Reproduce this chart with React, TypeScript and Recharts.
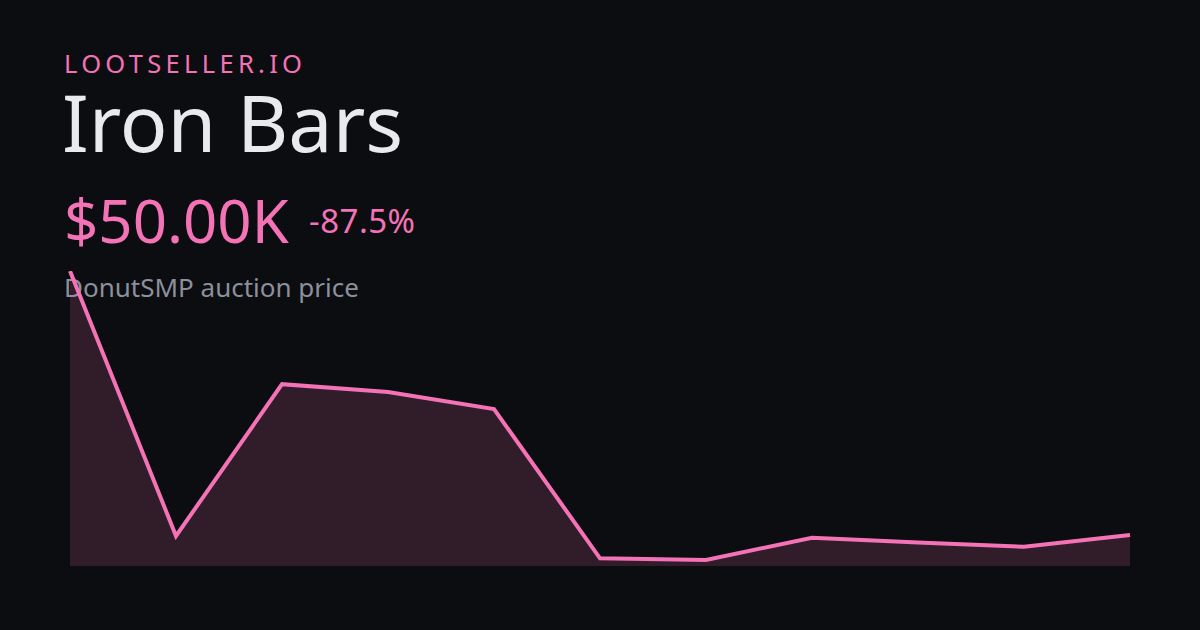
import { AreaChart, Area, XAxis, YAxis } from "recharts";

const DAYS = ["1", "2", "3", "4", "5", "6", "7", "8", "9", "10", "11"];
// price in thousands of $
const PRICES = [400, 48.8, 250, 239.6, 217, 19.2, 17, 46.5, 40, 34.5, 50];
const Y_DOMAIN = [9, 400];

const data = DAYS.map((d, i) => ({ day: d, price: PRICES[i] }));

const PINK = "#f472b6";
const FONT = "'Noto Sans', 'Open Sans', sans-serif";

export default function App() {
  return (
    <div
      style={{
        position: "fixed",
        left: 0,
        top: 0,
        width: 1200,
        height: 630,
        background: "#0c0d10",
        overflow: "hidden",
        fontFamily: FONT,
      }}
    >
      <div style={{ position: "absolute", left: 64, top: 51, fontSize: 25.5, lineHeight: 1, letterSpacing: 4.3, color: PINK }}>
        LOOTSELLER.IO
      </div>
      <div style={{ position: "absolute", left: 62, top: 82, fontSize: 79, lineHeight: 1, color: "#e9eaee" }}>
        Iron Bars
      </div>
      <div style={{ position: "absolute", left: 64, top: 190, fontSize: 60, lineHeight: 1, color: PINK }}>
        $50.00K
      </div>
      <div style={{ position: "absolute", left: 309, top: 204, fontSize: 33, lineHeight: 1, letterSpacing: 0.5, color: PINK }}>
        -87.5%
      </div>
      <div style={{ position: "absolute", left: 64, top: 274, fontSize: 26, lineHeight: 1, color: "#8b909c" }}>
        DonutSMP auction price
      </div>

      <div style={{ position: "absolute", left: 0, top: 0 }}>
        <AreaChart width={1200} height={630} data={data} margin={{ top: 271, right: 70, bottom: 64, left: 70 }}>
          <XAxis dataKey="day" hide />
          <YAxis hide domain={Y_DOMAIN} allowDataOverflow />
          <Area
            type="linear"
            dataKey="price"
            stroke={PINK}
            strokeWidth={4}
            fill={PINK}
            fillOpacity={0.16}
            dot={false}
            activeDot={false}
            isAnimationActive={false}
          />
        </AreaChart>
      </div>
    </div>
  );
}
